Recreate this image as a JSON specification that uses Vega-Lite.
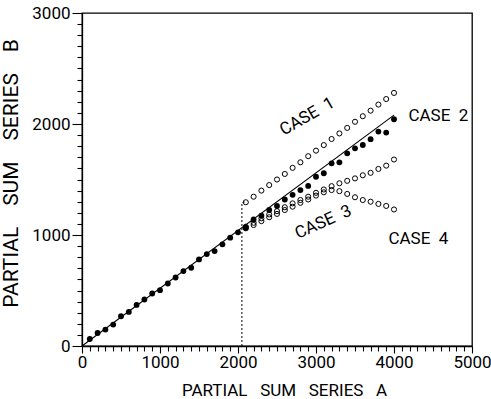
{
  "$schema": "https://vega.github.io/schema/vega-lite/v6.json",
  "width": 390,
  "height": 333,
  "autosize": {"type": "none"},
  "padding": {"left": 82, "top": 13, "right": 19, "bottom": 53},
  "background": "white",
  "config": {
    "view": {"stroke": "black", "strokeWidth": 1.3},
    "font": "Roboto",
    "axis": {
      "domainColor": "black",
      "domainWidth": 1.3,
      "tickColor": "black",
      "tickWidth": 1.1,
      "labelColor": "black",
      "titleColor": "black",
      "labelFontSize": 17,
      "titleFontSize": 17,
      "labelFontWeight": "normal",
      "titleFontWeight": "normal",
      "grid": false,
      "labelOverlap": false,
      "labelFont": "Roboto",
      "titleFont": "Roboto"
    }
  },
  "datasets": {
    "filled": [
      {"a": 100, "b": 63}, {"a": 200, "b": 117}, {"a": 300, "b": 148}, {"a": 400, "b": 193},
      {"a": 500, "b": 268}, {"a": 600, "b": 307}, {"a": 700, "b": 370}, {"a": 800, "b": 419},
      {"a": 900, "b": 473}, {"a": 1000, "b": 503}, {"a": 1100, "b": 563}, {"a": 1200, "b": 617},
      {"a": 1300, "b": 675}, {"a": 1400, "b": 705}, {"a": 1500, "b": 780}, {"a": 1600, "b": 828},
      {"a": 1700, "b": 855}, {"a": 1800, "b": 916}, {"a": 1900, "b": 976}, {"a": 2000, "b": 1024},
      {"a": 2100, "b": 1065}, {"a": 2200, "b": 1140}, {"a": 2300, "b": 1175}, {"a": 2400, "b": 1225},
      {"a": 2500, "b": 1262}, {"a": 2600, "b": 1320}, {"a": 2700, "b": 1362}, {"a": 2800, "b": 1405},
      {"a": 2900, "b": 1442}, {"a": 3000, "b": 1525}, {"a": 3100, "b": 1556}, {"a": 3200, "b": 1646},
      {"a": 3300, "b": 1655}, {"a": 3400, "b": 1736}, {"a": 3500, "b": 1781}, {"a": 3600, "b": 1811},
      {"a": 3700, "b": 1863}, {"a": 3800, "b": 1932}, {"a": 3900, "b": 1923}, {"a": 4000, "b": 2043}
    ],
    "open": [
      {"a": 2100, "b": 1295, "c": "1"}, {"a": 2200, "b": 1345, "c": "1"}, {"a": 2300, "b": 1400, "c": "1"},
      {"a": 2400, "b": 1450, "c": "1"}, {"a": 2500, "b": 1500, "c": "1"}, {"a": 2600, "b": 1550, "c": "1"},
      {"a": 2700, "b": 1605, "c": "1"}, {"a": 2800, "b": 1655, "c": "1"}, {"a": 2900, "b": 1710, "c": "1"},
      {"a": 3000, "b": 1760, "c": "1"}, {"a": 3100, "b": 1810, "c": "1"}, {"a": 3200, "b": 1865, "c": "1"},
      {"a": 3300, "b": 1915, "c": "1"}, {"a": 3400, "b": 1965, "c": "1"}, {"a": 3500, "b": 2020, "c": "1"},
      {"a": 3600, "b": 2070, "c": "1"}, {"a": 3700, "b": 2120, "c": "1"}, {"a": 3800, "b": 2175, "c": "1"},
      {"a": 3900, "b": 2225, "c": "1"}, {"a": 4000, "b": 2280, "c": "1"},
      {"a": 2100, "b": 1075, "c": "3"}, {"a": 2200, "b": 1110, "c": "3"}, {"a": 2300, "b": 1150, "c": "3"},
      {"a": 2400, "b": 1185, "c": "3"}, {"a": 2500, "b": 1215, "c": "3"}, {"a": 2600, "b": 1250, "c": "3"},
      {"a": 2700, "b": 1285, "c": "3"}, {"a": 2800, "b": 1315, "c": "3"}, {"a": 2900, "b": 1345, "c": "3"},
      {"a": 3000, "b": 1380, "c": "3"}, {"a": 3100, "b": 1410, "c": "3"}, {"a": 3200, "b": 1440, "c": "3"},
      {"a": 3300, "b": 1466, "c": "3"}, {"a": 3400, "b": 1488, "c": "3"}, {"a": 3500, "b": 1510, "c": "3"},
      {"a": 3600, "b": 1538, "c": "3"}, {"a": 3700, "b": 1560, "c": "3"}, {"a": 3800, "b": 1595, "c": "3"},
      {"a": 3900, "b": 1625, "c": "3"}, {"a": 4000, "b": 1680, "c": "3"},
      {"a": 2100, "b": 1060, "c": "4"}, {"a": 2200, "b": 1090, "c": "4"}, {"a": 2300, "b": 1125, "c": "4"},
      {"a": 2400, "b": 1160, "c": "4"}, {"a": 2500, "b": 1190, "c": "4"}, {"a": 2600, "b": 1225, "c": "4"},
      {"a": 2700, "b": 1255, "c": "4"}, {"a": 2800, "b": 1290, "c": "4"}, {"a": 2900, "b": 1320, "c": "4"},
      {"a": 3000, "b": 1355, "c": "4"}, {"a": 3100, "b": 1385, "c": "4"}, {"a": 3200, "b": 1405, "c": "4"},
      {"a": 3300, "b": 1395, "c": "4"}, {"a": 3400, "b": 1370, "c": "4"}, {"a": 3500, "b": 1340, "c": "4"},
      {"a": 3600, "b": 1315, "c": "4"}, {"a": 3700, "b": 1300, "c": "4"}, {"a": 3800, "b": 1280, "c": "4"},
      {"a": 3900, "b": 1262, "c": "4"}, {"a": 4000, "b": 1230, "c": "4"}
    ],
    "fit": [{"a": 0, "b": 0}, {"a": 4000, "b": 2080}],
    "dotted": [{"a": 2050, "b": 0}, {"a": 2050, "b": 1290}, {"a": 2090, "b": 1298}],
    "lab_rot1": [{"a": 2888, "b": 2067, "t": "CASE\u00a0\u00a01"}],
    "lab_rot3": [{"a": 3094, "b": 1115, "t": "CASE\u00a0\u00a03"}],
    "lab_flat": [{"a": 4185, "b": 2072, "t": "CASE\u00a0\u00a02"}, {"a": 3928, "b": 968, "t": "CASE\u00a0\u00a04"}]
  },
  "encoding": {
    "x": {
      "field": "a", "type": "quantitative",
      "scale": {"domain": [0, 5000], "nice": false},
      "axis": {
        "title": "PARTIAL\u00a0\u00a0\u00a0SUM\u00a0\u00a0\u00a0SERIES\u00a0\u00a0\u00a0A",
        "values": [0,100,200,300,400,500,600,700,800,900,1000,1100,1200,1300,1400,1500,1600,1700,1800,1900,2000,2100,2200,2300,2400,2500,2600,2700,2800,2900,3000,3100,3200,3300,3400,3500,3600,3700,3800,3900,4000,4100,4200,4300,4400,4500,4600,4700,4800,4900,5000],
        "labelExpr": "datum.value % 1000 === 0 ? datum.label : ''",
        "format": "d",
        "labelOverlap": false,
        "labelFlush": false,
        "labelBound": false,
        "tickSize": {"condition": {"test": "datum.value % 1000 === 0", "value": 7}, "value": 5},
        "labelPadding": 1,
        "titlePadding": 12,
        "titleX": 202,
        "titleFontSize": 17
      }
    },
    "y": {
      "field": "b", "type": "quantitative",
      "scale": {"domain": [0, 3000], "nice": false},
      "axis": {
        "title": "PARTIAL\u00a0\u00a0\u00a0\u00a0SUM\u00a0\u00a0\u00a0\u00a0SERIES\u00a0\u00a0\u00a0\u00a0B",
        "values": [0,100,200,300,400,500,600,700,800,900,1000,1100,1200,1300,1400,1500,1600,1700,1800,1900,2000,2100,2200,2300,2400,2500,2600,2700,2800,2900,3000],
        "labelExpr": "datum.value % 1000 === 0 ? datum.label : ''",
        "format": "d",
        "labelOverlap": false,
        "labelFlush": false,
        "labelBound": false,
        "tickSize": {"condition": {"test": "datum.value % 1000 === 0", "value": 10}, "value": 5},
        "labelPadding": 2,
        "titlePadding": 10,
        "titleY": 160,
        "titleFontSize": 21
      }
    }
  },
  "layer": [
    {
      "data": {"name": "fit"},
      "mark": {"type": "line", "color": "black", "strokeWidth": 1.1}
    },
    {
      "data": {"name": "dotted"},
      "mark": {"type": "line", "color": "black", "strokeWidth": 1, "strokeDash": [2, 2]}
    },
    {
      "data": {"name": "filled"},
      "mark": {"type": "point", "shape": "circle", "filled": true, "color": "black", "opacity": 1, "size": 34}
    },
    {
      "data": {"name": "open"},
      "mark": {"type": "point", "shape": "circle", "filled": false, "color": "black", "opacity": 1, "size": 26, "strokeWidth": 1}
    },
    {
      "data": {"name": "lab_rot1"},
      "mark": {"type": "text", "angle": 330, "align": "center", "baseline": "middle", "fontSize": 17, "color": "black"},
      "encoding": {"text": {"field": "t"}}
    },
    {
      "data": {"name": "lab_rot3"},
      "mark": {"type": "text", "angle": 336, "align": "center", "baseline": "middle", "fontSize": 17, "color": "black"},
      "encoding": {"text": {"field": "t"}}
    },
    {
      "data": {"name": "lab_flat"},
      "mark": {"type": "text", "align": "left", "baseline": "middle", "fontSize": 17, "color": "black"},
      "encoding": {"text": {"field": "t"}}
    }
  ]
}
